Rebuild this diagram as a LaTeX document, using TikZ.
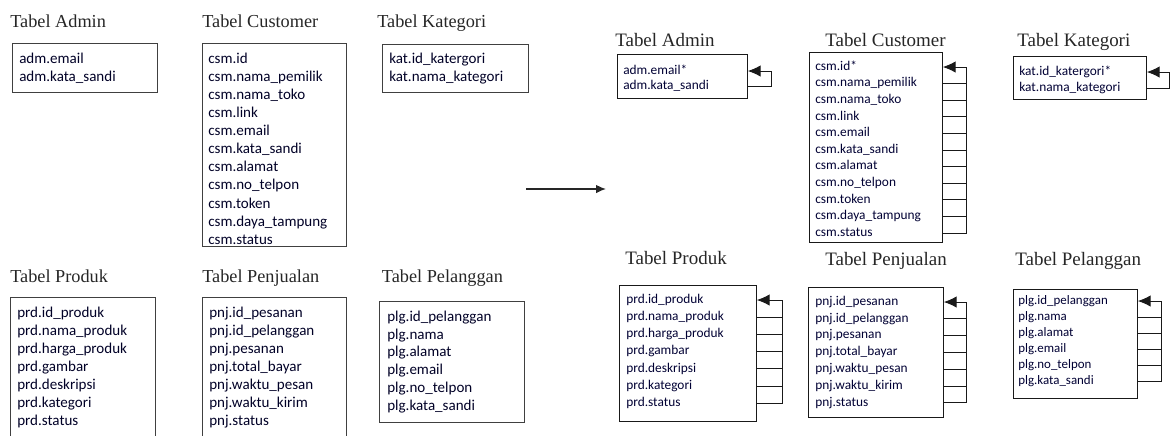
\documentclass[tikz,border=0pt]{standalone}
\usepackage{fontspec}
\setmainfont{Liberation Serif}
\newfontfamily\fieldfont{Carlito}
\usetikzlibrary{arrows.meta}

\begin{document}
\begin{tikzpicture}[>={Latex[length=7pt,width=6pt]},
  title/.style={anchor=base west, inner sep=0pt, text=black!85, font=\fontsize{13}{15}\selectfont},
  tblL/.style={draw=black!75, line width=0.9pt, rectangle, anchor=north west, inner sep=0pt},
  tblR/.style={draw=black!90, line width=0.6pt, rectangle, anchor=north west, inner sep=0pt},
  fieldL/.style={anchor=mid west, inner sep=0pt, text=black!85!blue, font=\fieldfont\fontsize{10.7}{12}\selectfont},
  fieldR/.style={anchor=mid west, inner sep=0pt, text=black!80!blue, font=\fieldfont\fontsize{9.5}{11}\selectfont},
  link/.style={draw=black!90, line width=0.6pt},
  loop/.style={link, -{Latex[length=9pt,width=8pt]}}]
\useasboundingbox (0,0) rectangle (29.275,-10.875);

% before
\node[title] (tAdmL) at (0.25,-0.675) {Tabel Admin};
\node[tblL, minimum width=3.625cm, minimum height=1.225cm] (admL) at (0.3,-1.075) {};
\foreach \f [count=\i] in {adm.email, adm.kata\_sandi}
  \node[fieldL] (admL\i) at (0.475,{-1.5-0.4625*(\i-1)}) {\f};

\node[title] (tCusL) at (5.05,-0.675) {Tabel Customer};
\node[tblL, minimum width=3.6cm, minimum height=5.075cm] (cusL) at (5.05,-1.075) {};
\foreach \f [count=\i] in {csm.id, csm.nama\_pemilik, csm.nama\_toko, csm.link, csm.email, csm.kata\_sandi, csm.alamat, csm.no\_telpon, csm.token, csm.daya\_tampung, csm.status}
  \node[fieldL] (cusL\i) at (5.2,{-1.5-0.4525*(\i-1)}) {\f};

\node[title] (tKatL) at (9.425,-0.675) {Tabel Kategori};
\node[tblL, minimum width=3.65cm, minimum height=1.2cm] (katL) at (9.55,-1.1) {};
\foreach \f [count=\i] in {kat.id\_katergori, kat.nama\_kategori}
  \node[fieldL] (katL\i) at (9.725,{-1.5-0.45*(\i-1)}) {\f};

\node[title] (tPrdL) at (0.25,-7.05) {Tabel Produk};
\node[tblL, minimum width=3.625cm, minimum height=3.6cm] (prdL) at (0.25,-7.425) {};
\foreach \f [count=\i] in {prd.id\_produk, prd.nama\_produk, prd.harga\_produk, prd.gambar, prd.deskripsi, prd.kategori, prd.status}
  \node[fieldL] (prdL\i) at (0.425,{-7.85-0.45*(\i-1)}) {\f};

\node[title] (tPnjL) at (5.05,-7.05) {Tabel Penjualan};
\node[tblL, minimum width=3.6cm, minimum height=3.6cm] (pnjL) at (5.05,-7.425) {};
\foreach \f [count=\i] in {pnj.id\_pesanan, pnj.id\_pelanggan, pnj.pesanan, pnj.total\_bayar, pnj.waktu\_pesan, pnj.waktu\_kirim, pnj.status}
  \node[fieldL] (pnjL\i) at (5.225,{-7.85-0.4525*(\i-1)}) {\f};

\node[title] (tPlgL) at (9.54,-7.05) {Tabel Pelanggan};
\node[tblL, minimum width=3.625cm, minimum height=3.025cm] (plgL) at (9.475,-7.525) {};
\foreach \f [count=\i] in {plg.id\_pelanggan, plg.nama, plg.alamat, plg.email, plg.no\_telpon, plg.kata\_sandi}
  \node[fieldL] (plgL\i) at (9.675,{-7.95-0.445*(\i-1)}) {\f};

% arrow
\coordinate (arrS) at (13.15,-4.725);
\coordinate (arrE) at (15.15,-4.725);
\draw[->, line width=1pt, black!85] (arrS) -- (arrE);

% after
\node[title, font=\fontsize{13.5}{15}\selectfont] (tAdmR) at (15.375,-1.15) {Tabel Admin};
\node[tblR, minimum width=3.25cm, minimum height=1.1cm] (admR) at (15.425,-1.35) {};
\foreach \f [count=\i] in {adm.email*, adm.kata\_sandi}
  \node[fieldR] (admR\i) at (15.575,{-1.775-0.3875*(\i-1)}) {\f};
\coordinate (admX) at (19.275,0);
\draw[loop] (admR2.mid west -| admR.east) -- (admR2.mid west -| admX) -- (admR1.mid west -| admX) -- (admR1.mid west -| admR.east);

\node[title, font=\fontsize{13.5}{15}\selectfont] (tCusR) at (20.625,-1.15) {Tabel Customer};
\node[tblR, minimum width=3.325cm, minimum height=4.75cm] (cusR) at (20.225,-1.3) {};
\foreach \f [count=\i] in {csm.id*, csm.nama\_pemilik, csm.nama\_toko, csm.link, csm.email, csm.kata\_sandi, csm.alamat, csm.no\_telpon, csm.token, csm.daya\_tampung, csm.status}
  \node[fieldR] (cusR\i) at (20.375,{-1.675-0.415*(\i-1)}) {\f};
\coordinate (cusX) at (24.15,0);
\foreach \i in {2,...,10}
  \draw[link] (cusR\i.mid west -| cusR.east) -- (cusR\i.mid west -| cusX);
\draw[loop] (cusR11.mid west -| cusR.east) -- (cusR11.mid west -| cusX) -- (cusR1.mid west -| cusX) -- (cusR1.mid west -| cusR.east);

\node[title, font=\fontsize{13.5}{15}\selectfont] (tKatR) at (25.425,-1.15) {Tabel Kategori};
\node[tblR, minimum width=3.325cm, minimum height=1.075cm] (katR) at (25.325,-1.4) {};
\foreach \f [count=\i] in {kat.id\_katergori*, kat.nama\_kategori}
  \node[fieldR] (katR\i) at (25.475,{-1.8-0.4*(\i-1)}) {\f};
\coordinate (katX) at (29.23,0);
\draw[loop] (katR2.mid west -| katR.east) -- (katR2.mid west -| katX) -- (katR1.mid west -| katX) -- (katR1.mid west -| katR.east);

\node[title, font=\fontsize{13.5}{15}\selectfont] (tPrdR) at (15.625,-6.6) {Tabel Produk};
\node[tblR, minimum width=3.425cm, minimum height=3.4cm] (prdR) at (15.475,-7.125) {};
\foreach \f [count=\i] in {prd.id\_produk, prd.nama\_produk, prd.harga\_produk, prd.gambar, prd.deskripsi, prd.kategori, prd.status}
  \node[fieldR] (prdR\i) at (15.65,{-7.5-0.43*(\i-1)}) {\f};
\coordinate (prdX) at (19.55,0);
\foreach \i in {2,...,6}
  \draw[link] (prdR\i.mid west -| prdR.east) -- (prdR\i.mid west -| prdX);
\draw[loop] (prdR7.mid west -| prdR.east) -- (prdR7.mid west -| prdX) -- (prdR1.mid west -| prdX) -- (prdR1.mid west -| prdR.east);

\node[title, font=\fontsize{13.5}{15}\selectfont] (tPnjR) at (20.625,-6.625) {Tabel Penjualan};
\node[tblR, minimum width=3.375cm, minimum height=3.25cm] (pnjR) at (20.2,-7.175) {};
\foreach \f [count=\i] in {pnj.id\_pesanan, pnj.id\_pelanggan, pnj.pesanan, pnj.total\_bayar, pnj.waktu\_pesan, pnj.waktu\_kirim, pnj.status}
  \node[fieldR] (pnjR\i) at (20.375,{-7.55-0.42*(\i-1)}) {\f};
\coordinate (pnjX) at (24.15,0);
\foreach \i in {2,...,6}
  \draw[link] (pnjR\i.mid west -| pnjR.east) -- (pnjR\i.mid west -| pnjX);
\draw[loop] (pnjR7.mid west -| pnjR.east) -- (pnjR7.mid west -| pnjX) -- (pnjR1.mid west -| pnjX) -- (pnjR1.mid west -| pnjR.east);

\node[title, font=\fontsize{13.5}{15}\selectfont] (tPlgR) at (25.375,-6.625) {Tabel Pelanggan};
\node[tblR, minimum width=3.1cm, minimum height=2.725cm] (plgR) at (25.325,-7.225) {};
\foreach \f [count=\i] in {plg.id\_pelanggan, plg.nama, plg.alamat, plg.email, plg.no\_telpon, plg.kata\_sandi}
  \node[fieldR, font=\fieldfont\fontsize{9.2}{11}\selectfont] (plgR\i) at (25.45,{-7.525-0.4*(\i-1)}) {\f};
\coordinate (plgX) at (29.025,0);
\foreach \i in {2,...,5}
  \draw[link] (plgR\i.mid west -| plgR.east) -- (plgR\i.mid west -| plgX);
\draw[loop] (plgR6.mid west -| plgR.east) -- (plgR6.mid west -| plgX) -- (plgR1.mid west -| plgX) -- (plgR1.mid west -| plgR.east);
\end{tikzpicture}
\end{document}
